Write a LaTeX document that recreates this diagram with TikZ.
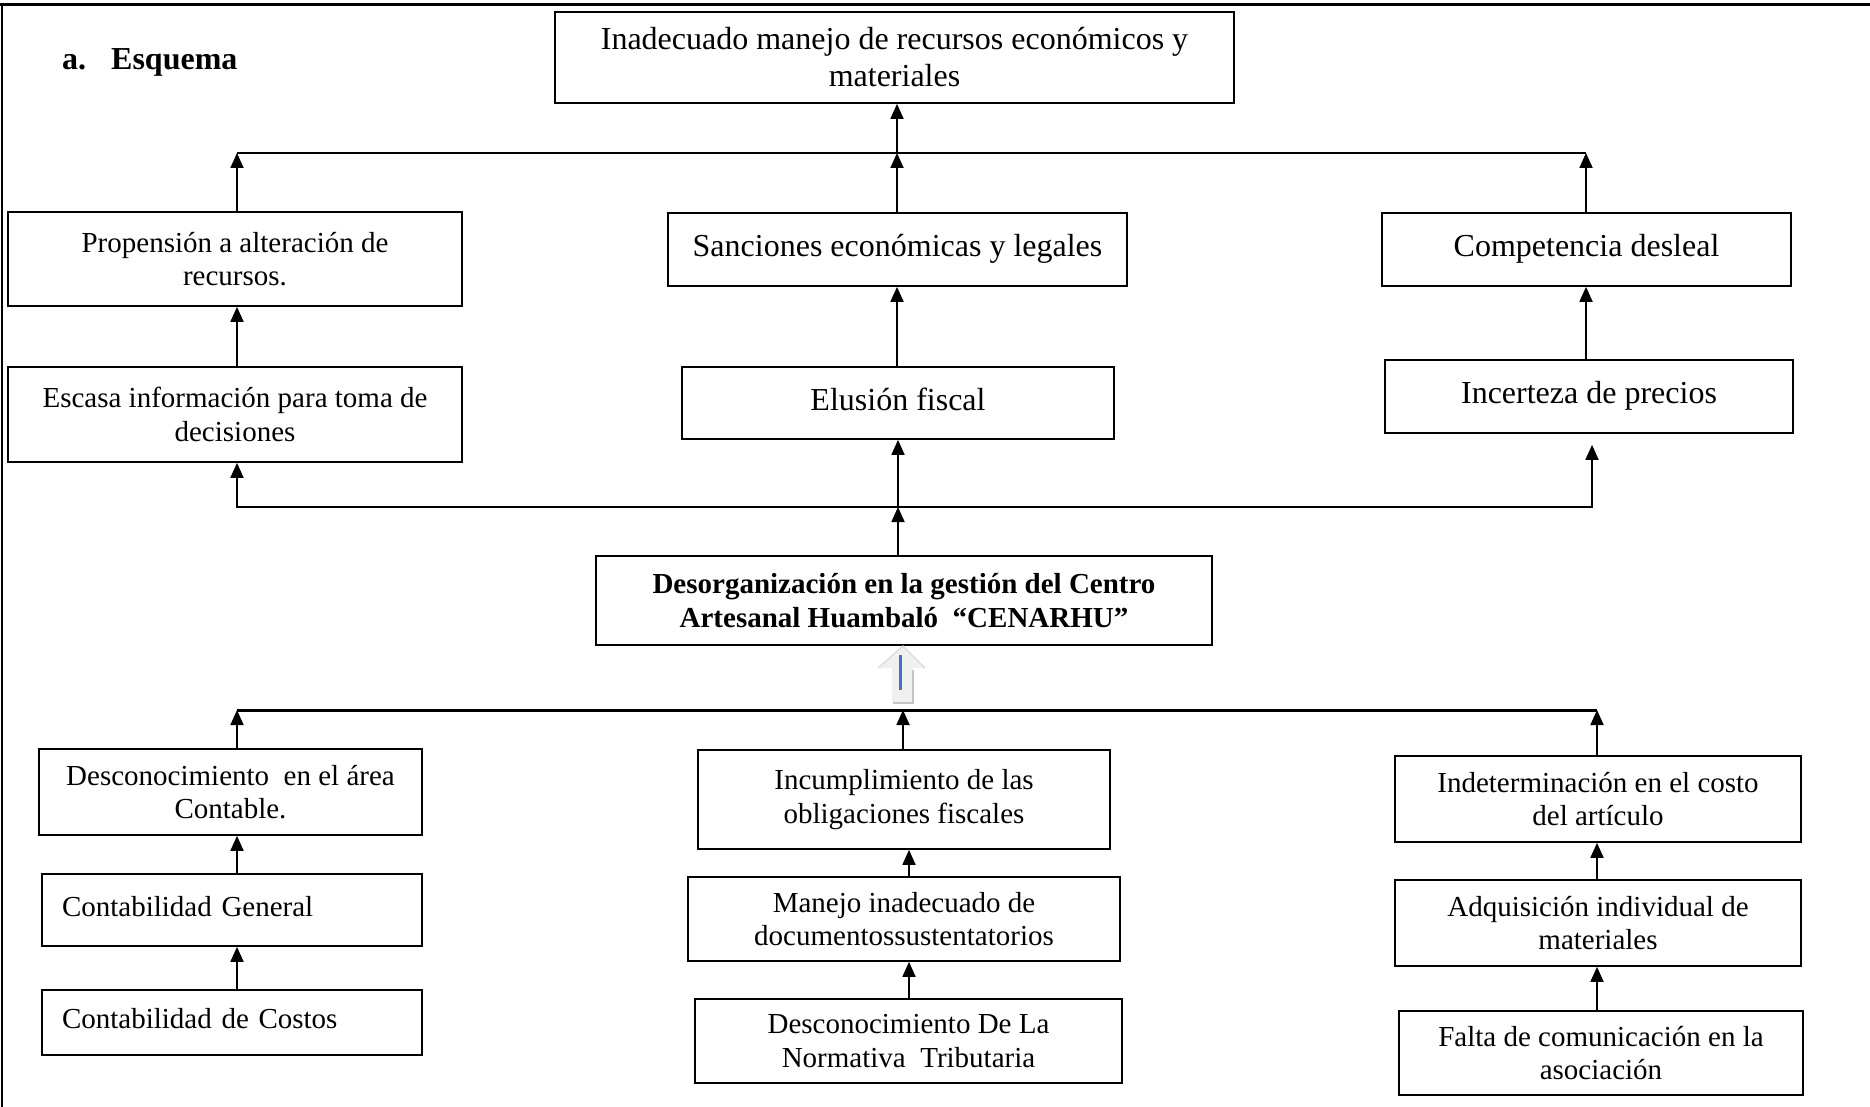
\documentclass[tikz,border=0pt]{standalone}
\usepackage{fontspec}
\setmainfont{Liberation Serif}
\usetikzlibrary{arrows.meta}
\definecolor{azul}{RGB}{68,114,196}

\begin{document}
\begin{tikzpicture}[x=1pt,y=-1pt,
    caja/.style={draw, line width=1.7pt, align=center, inner sep=0pt, font=\fontsize{32}{37}\selectfont},
    cajab/.style={caja, font=\fontsize{29}{33.5}\selectfont},
    una/.style={text height=23pt, text depth=9pt},
    unab/.style={text height=20pt, text depth=8pt},
    flecha/.style={-{Triangle[length=15pt,width=13pt]}, line width=1.8pt},
    ambas/.style={{Triangle[length=15pt,width=13pt]}-{Triangle[length=15pt,width=13pt]}, line width=1.8pt}]

\useasboundingbox (0,0) rectangle (1870,1107);
% marco de la pagina
\draw[line width=3pt] (0,5) -- (1870,5);
\draw[line width=2pt] (2,5) -- (2,1107);

\node[anchor=west, inner sep=0pt, font=\bfseries\fontsize{32}{37}\selectfont] (titulo) at (62,62) {a.\hspace{25pt}Esquema};

% efectos
\node[caja, minimum width=679pt, minimum height=91pt] (efecto) at (894.5,57.5) {Inadecuado manejo de recursos económicos y\\materiales};

\node[cajab, minimum width=454pt, minimum height=94pt] (propension) at (235,259) {Propensión a alteración de\\recursos.};
\node[caja, una, minimum width=459pt, minimum height=73pt] (sanciones) at (897.5,249.5) {Sanciones económicas y legales};
\node[caja, una, minimum width=409pt, minimum height=73pt] (competencia) at (1586.5,249.5) {Competencia desleal};

\node[cajab, minimum width=454pt, minimum height=95pt] (escasa) at (235,414.5) {Escasa información para toma de\\decisiones};
\node[caja, una, minimum width=432pt, minimum height=72pt] (elusion) at (898,403) {Elusión fiscal};
\node[caja, una, minimum width=408pt, minimum height=73pt] (incerteza) at (1589,396.5) {Incerteza de precios};

% problema central
\node[cajab, font=\bfseries\fontsize{29}{33.5}\selectfont, minimum width=616pt, minimum height=89pt] (problema) at (904,600.5) {Desorganización en la gestión del Centro\\Artesanal Huambaló\ \ “CENARHU”};

% causas
\node[cajab, minimum width=383pt, minimum height=86pt] (areacont) at (230.5,792) {Desconocimiento\ \ en el área\\Contable.};
\node[cajab, unab, align=left, text width=340pt, inner xsep=20pt, minimum height=72pt] (contgen) at (232,910) {Contabilidad General};
\node[cajab, unab, align=left, text width=340pt, inner xsep=20pt, minimum height=65pt] (contcost) at (232,1022.5) {Contabilidad de Costos};

\node[cajab, minimum width=412pt, minimum height=99pt] (incumpl) at (904,799.5) {Incumplimiento de las\\obligaciones fiscales};
\node[cajab, minimum width=432pt, minimum height=84pt] (manejo) at (904,919) {Manejo inadecuado de\\documentossustentatorios};
\node[cajab, minimum width=427pt, minimum height=84pt] (normativa) at (908.5,1041) {Desconocimiento De La\\Normativa\ \ Tributaria};

\node[cajab, minimum width=406pt, minimum height=86pt] (indeterm) at (1598,799) {Indeterminación en el costo\\del artículo};
\node[cajab, minimum width=406pt, minimum height=86pt] (adquis) at (1598,923) {Adquisición individual de\\materiales};
\node[cajab, minimum width=404pt, minimum height=84pt] (falta) at (1601,1053) {Falta de comunicación en la\\asociación};

% conectores de efectos
\coordinate (s1) at (237,153);
\coordinate (s2) at (897,153);
\coordinate (s3) at (1586,153);
\draw[line width=1.8pt] (s1) -- (s3);
\draw[flecha] (s1 |- propension.north) -- (s1);
\draw[flecha] (s2 |- sanciones.north) -- (s2);
\draw[flecha] (s2) -- (s2 |- efecto.south);
\draw[flecha] (s3 |- competencia.north) -- (s3);
\draw[flecha] (s1 |- escasa.north) -- (s1 |- propension.south);
\draw[flecha] (s2 |- elusion.north) -- (s2 |- sanciones.south);
\draw[flecha] (s3 |- incerteza.north) -- (s3 |- competencia.south);

\coordinate (m1) at (237,507);
\coordinate (m2) at (898,507);
\coordinate (m3) at (1592,507);
\draw[ambas, shorten >=11pt] (m1 |- escasa.south) -- (m1) -- (m3) -- (m3 |- incerteza.south);
\draw[flecha] (m2 |- problema.north) -- (m2);
\draw[flecha] (m2) -- (m2 |- elusion.south);

% flecha hueca
\fill[gray!12] (878,668) -- (903,646) -- (925,668) -- (913,668) -- (913,703) -- (892,703) -- (892,668) -- cycle;
\draw[gray!45, line width=1.5pt] (913,670) -- (913,703) -- (893,703);
\draw[gray!30, line width=1.2pt] (878,668) -- (903,646) -- (925,668);
\draw[azul, line width=3pt] (900,655) -- (900,690);

% conectores de causas
\coordinate (b1) at (237,710);
\coordinate (b2) at (903,710);
\coordinate (b3) at (1597,710);
\coordinate (c2) at (909,0);
\draw[line width=3pt] (b1) -- (b3);
\draw[flecha] (b1 |- areacont.north) -- (b1);
\draw[flecha] (b2 |- incumpl.north) -- (b2);
\draw[flecha] (b3 |- indeterm.north) -- (b3);
\draw[flecha] (b1 |- contgen.north) -- (b1 |- areacont.south);
\draw[flecha] (b1 |- contcost.north) -- (b1 |- contgen.south);
\draw[flecha] (c2 |- manejo.north) -- (c2 |- incumpl.south);
\draw[flecha] (c2 |- normativa.north) -- (c2 |- manejo.south);
\draw[flecha] (b3 |- adquis.north) -- (b3 |- indeterm.south);
\draw[flecha] (b3 |- falta.north) -- (b3 |- adquis.south);

\end{tikzpicture}
\end{document}
